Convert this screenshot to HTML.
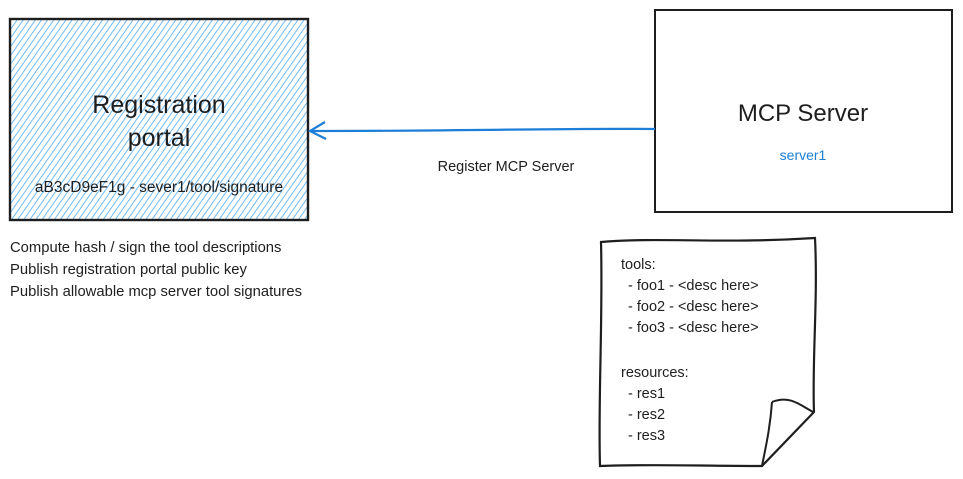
<!DOCTYPE html>
<html><head><meta charset="utf-8"><style>
body{margin:0;background:#fff;width:963px;height:479px;overflow:hidden;font-family:"Liberation Sans",sans-serif}
svg{position:absolute;left:0;top:0}
text{font-family:"Liberation Sans",sans-serif;fill:#1e1e1e}
</style></head><body>
<svg width="963" height="479" viewBox="0 0 963 479">
<defs>
<pattern id="h" width="5" height="5" patternUnits="userSpaceOnUse" patternTransform="rotate(35)">
<line x1="0" y1="0" x2="0" y2="5" stroke="#4dabf7" stroke-width="1.6"/>
</pattern>
</defs>
<rect x="10" y="19" width="298" height="201" fill="url(#h)"/>
<rect x="10" y="19" width="298" height="201" fill="none" stroke="#1e1e1e" stroke-width="2.4"/>
<text x="159" y="113" font-size="25" text-anchor="middle">Registration</text>
<text x="159" y="146" font-size="25" text-anchor="middle">portal</text>
<text x="159" y="192" font-size="15.5" text-anchor="middle">aB3cD9eF1g - sever1/tool/signature</text>

<text font-size="14.8"><tspan x="10" y="252">Compute hash / sign the tool descriptions</tspan><tspan x="10" y="274">Publish registration portal public key</tspan><tspan x="10" y="296">Publish allowable mcp server tool signatures</tspan></text>

<rect x="655" y="10" width="297" height="202" fill="#fff" stroke="#1e1e1e" stroke-width="2"/>
<text x="803" y="121" font-size="24" text-anchor="middle">MCP Server</text>
<text x="803" y="160" font-size="14" text-anchor="middle" style="fill:#1c7ed6">server1</text>

<path d="M655 129 C560 128 480 131 310 131" stroke="#1c7ed6" stroke-width="2.2" fill="none"/>
<path d="M325 122 L310 131 L326 139" stroke="#1c7ed6" stroke-width="2.2" fill="none"/>
<text x="506" y="171" font-size="14.5" text-anchor="middle">Register MCP Server</text>

<path d="M601 242 C660 237 720 244 815 238 C818 300 812 360 814 412 L762 466 C700 466 650 464 600 466 C598 400 603 320 601 242 Z" fill="#fff" stroke="#1e1e1e" stroke-width="2.2"/>
<path d="M772 402 C790 395 800 405 813 412 M772 402 C770 430 765 450 762 466" stroke="#1e1e1e" stroke-width="2" fill="none"/>
<text font-size="14.5"><tspan x="621" y="269">tools:</tspan><tspan x="628" y="290">- foo1 - &lt;desc here&gt;</tspan><tspan x="628" y="311">- foo2 - &lt;desc here&gt;</tspan><tspan x="628" y="332">- foo3 - &lt;desc here&gt;</tspan><tspan x="621" y="377">resources:</tspan><tspan x="628" y="398">- res1</tspan><tspan x="628" y="419">- res2</tspan><tspan x="628" y="440">- res3</tspan></text>
</svg>
</body></html>
